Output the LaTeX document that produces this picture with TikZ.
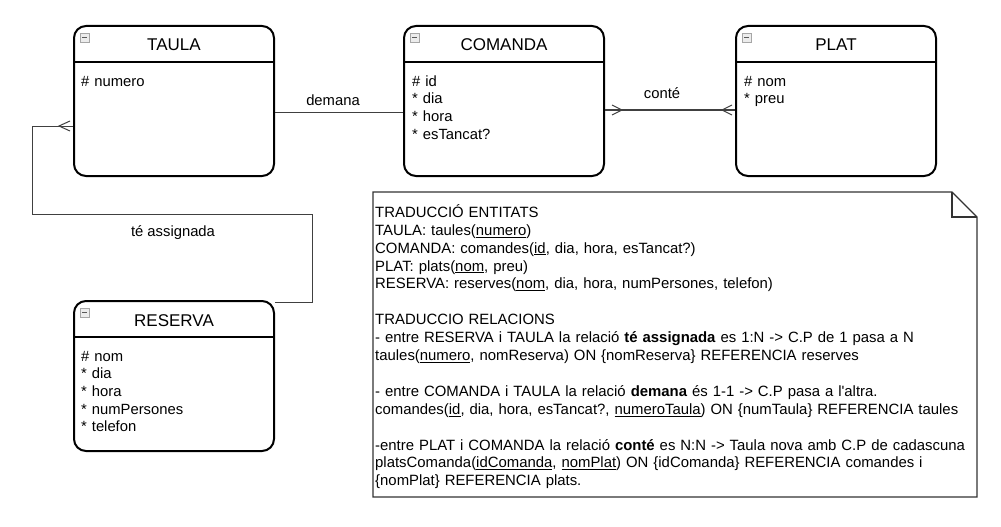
\documentclass[tikz,border=0pt]{standalone}
\usepackage{fontspec}
\newfontfamily\lsans{Liberation Sans}
\begin{document}
\begin{tikzpicture}[x=1pt,y=-1pt,
  entity/.style={draw=black, line width=2pt, rounded corners=12pt, minimum width=200pt, minimum height=150pt, inner sep=0pt, fill=white},
  etitle/.style={anchor=base, inner sep=0pt, font=\lsans\fontsize{17}{20}\selectfont},
  attrs/.style={anchor=base west, align=left, text width=185pt, inner sep=0pt, font=\lsans\fontsize{14.8}{17.7}\selectfont},
  conn/.style={draw=black!75, line width=1pt},
  rlabel/.style={anchor=base, inner sep=0pt, font=\lsans\fontsize{14.8}{17.7}\selectfont},
  notebd/.style={draw=black!80, line width=1.2pt, fill=white},
  notetext/.style={anchor=base west, align=left, text width=598pt, inner sep=0pt, font=\lsans\fontsize{14.9}{17.9}\selectfont},
  iconbox/.style={draw=gray!70, fill=gray!15, line width=0.6pt},
  iconbar/.style={draw=black!65, line width=1.3pt}
]
\path[use as bounding box] (0,0) rectangle (1001,527);

% entities
\node[entity] (taula) at (174,101) {};
\node[entity] (comanda) at (504,101) {};
\node[entity] (plat) at (836,101) {};
\node[entity] (reserva) at (174,376) {};

\foreach \e in {taula,comanda,plat,reserva}{
  \draw[line width=2pt] ([yshift=-37pt]\e.north west) -- ([yshift=-37pt]\e.north east);
  \draw[iconbox] ([shift={(7,8)}]\e.north west) rectangle ++(9,9);
  \draw[iconbar] ([shift={(9,12.5)}]\e.north west) -- ++(5,0);
}

\node[etitle] (taulaT) at (174,51) {TAULA};
\node[etitle] (comandaT) at (504,51) {COMANDA};
\node[etitle] (platT) at (836,51) {PLAT};
\node[etitle] (reservaT) at (174,326) {RESERVA};

\node[attrs] (taulaA) at (81,86) {\# numero};
\node[attrs] (comandaA) at (412,86) {\# id\\ {*} dia\\ {*} hora\\ {*} esTancat?};
\node[attrs] (platA) at (744,86) {\# nom\\ {*} preu};
\node[attrs] (reservaA) at (81,361) {\# nom\\ {*} dia\\ {*} hora\\ {*} numPersones\\ {*} telefon};

% demana
\coordinate (d1) at (taula.east |- 0,112);
\coordinate (d2) at (comanda.west |- 0,112);
\draw[conn] (d1) -- (d2);
\node[rlabel] (lbdemana) at (333,105) {demana};

% conte
\coordinate (c1) at (comanda.east |- 0,110);
\coordinate (c2) at (plat.west |- 0,110);
\draw[conn, line width=1.6pt] (c1) -- (c2);
\draw[conn, line width=1pt] ([shift={(7,-5)}]c1) -- ([shift={(17,0)}]c1) -- ([shift={(7,5)}]c1);
\draw[conn, line width=1pt] ([shift={(-3,-5)}]c2) -- ([shift={(-13,0)}]c2) -- ([shift={(-3,5)}]c2);
\node[rlabel] (lbconte) at (662,98) {conté};

% te assignada
\coordinate (r1) at (reserva.east |- 0,302);
\coordinate (t1) at (taula.west |- 0,126);
\draw[conn] (r1) -- (312,302) -- (312,214) -- (32,214) -- (32,126) -- (t1);
\draw[conn] ([shift={(-3,-5)}]t1) -- ([shift={(-14,0)}]t1) -- ([shift={(-3,5)}]t1);
\node[rlabel] (lbte) at (173,236) {té assignada};

% note
\node[minimum width=604pt, minimum height=305pt, inner sep=0pt, outer sep=0pt, anchor=north west] (note) at (373,192) {};
\draw[notebd] (note.north west) -- ([xshift=-25pt]note.north east) -- ([yshift=-25pt]note.north east) -- (note.south east) -- (note.south west) -- cycle;
\draw[notebd, fill=none] ([xshift=-25pt]note.north east) -- ([shift={(-25,25)}]note.north east) -- ([yshift=-25pt]note.north east);
\node[notetext] (notetxt) at (375,217.3) {TRADUCCIÓ ENTITATS\\
TAULA: taules(\underline{numero})\\
COMANDA: comandes(\underline{id}, dia, hora, esTancat?)\\
PLAT: plats(\underline{nom}, preu)\\
RESERVA: reserves(\underline{nom}, dia, hora, numPersones, telefon)\\[17.9pt]
TRADUCCIO RELACIONS\\
- entre RESERVA i TAULA la relació \textbf{té assignada} es 1:N -> C.P de 1 pasa a N\\
taules(\underline{numero}, nomReserva) ON \{nomReserva\} REFERENCIA reserves\\[17.9pt]
- entre COMANDA i TAULA la relació \textbf{demana} és 1-1 -> C.P pasa a l'altra.\\
comandes(\underline{id}, dia, hora, esTancat?, \underline{numeroTaula}) ON \{numTaula\} REFERENCIA taules\\[17.9pt]
-entre PLAT i COMANDA la relació \textbf{conté} es N:N -> Taula nova amb C.P de cadascuna\\
platsComanda(\underline{idComanda}, \underline{nomPlat}) ON \{idComanda\} REFERENCIA comandes i\\
\{nomPlat\} REFERENCIA plats.};
\end{tikzpicture}
\end{document}
